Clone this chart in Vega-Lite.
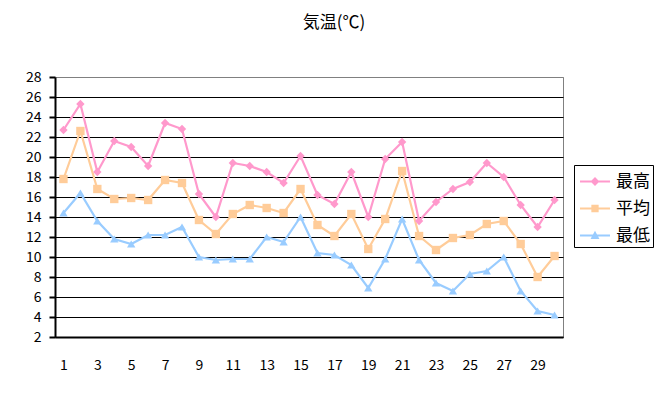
{
  "$schema": "https://vega.github.io/schema/vega-lite/v6.json",
  "autosize": {"type": "none"},
  "width": 508,
  "height": 260,
  "padding": {"left": 55, "top": 77, "right": 107, "bottom": 59},
  "background": "white",
  "title": {"text": "気温(℃)", "font": "Noto Sans CJK JP", "fontSize": 17, "fontWeight": "normal", "color": "black", "anchor": "middle", "frame": "group", "offset": 38, "dx": 25},
  "config": {
    "view": {"stroke": "#808080", "strokeWidth": 1},
    "font": "Noto Sans CJK JP"
  },
  "data": {"values": [
    {"day":1,"series":"最高","temp":22.7},{"day":2,"series":"最高","temp":25.3},{"day":3,"series":"最高","temp":18.5},{"day":4,"series":"最高","temp":21.6},{"day":5,"series":"最高","temp":21.0},{"day":6,"series":"最高","temp":19.1},{"day":7,"series":"最高","temp":23.4},{"day":8,"series":"最高","temp":22.8},{"day":9,"series":"最高","temp":16.3},{"day":10,"series":"最高","temp":14.0},
    {"day":11,"series":"最高","temp":19.4},{"day":12,"series":"最高","temp":19.1},{"day":13,"series":"最高","temp":18.5},{"day":14,"series":"最高","temp":17.4},{"day":15,"series":"最高","temp":20.1},{"day":16,"series":"最高","temp":16.2},{"day":17,"series":"最高","temp":15.3},{"day":18,"series":"最高","temp":18.5},{"day":19,"series":"最高","temp":14.0},{"day":20,"series":"最高","temp":19.8},
    {"day":21,"series":"最高","temp":21.5},{"day":22,"series":"最高","temp":13.6},{"day":23,"series":"最高","temp":15.5},{"day":24,"series":"最高","temp":16.8},{"day":25,"series":"最高","temp":17.5},{"day":26,"series":"最高","temp":19.4},{"day":27,"series":"最高","temp":18.0},{"day":28,"series":"最高","temp":15.2},{"day":29,"series":"最高","temp":13.0},{"day":30,"series":"最高","temp":15.7},
    {"day":1,"series":"平均","temp":17.8},{"day":2,"series":"平均","temp":22.6},{"day":3,"series":"平均","temp":16.8},{"day":4,"series":"平均","temp":15.8},{"day":5,"series":"平均","temp":15.9},{"day":6,"series":"平均","temp":15.7},{"day":7,"series":"平均","temp":17.7},{"day":8,"series":"平均","temp":17.4},{"day":9,"series":"平均","temp":13.7},{"day":10,"series":"平均","temp":12.3},
    {"day":11,"series":"平均","temp":14.3},{"day":12,"series":"平均","temp":15.2},{"day":13,"series":"平均","temp":14.9},{"day":14,"series":"平均","temp":14.4},{"day":15,"series":"平均","temp":16.8},{"day":16,"series":"平均","temp":13.2},{"day":17,"series":"平均","temp":12.1},{"day":18,"series":"平均","temp":14.3},{"day":19,"series":"平均","temp":10.8},{"day":20,"series":"平均","temp":13.8},
    {"day":21,"series":"平均","temp":18.6},{"day":22,"series":"平均","temp":12.1},{"day":23,"series":"平均","temp":10.7},{"day":24,"series":"平均","temp":11.9},{"day":25,"series":"平均","temp":12.2},{"day":26,"series":"平均","temp":13.3},{"day":27,"series":"平均","temp":13.6},{"day":28,"series":"平均","temp":11.3},{"day":29,"series":"平均","temp":8.0},{"day":30,"series":"平均","temp":10.1},
    {"day":1,"series":"最低","temp":14.4},{"day":2,"series":"最低","temp":16.4},{"day":3,"series":"最低","temp":13.6},{"day":4,"series":"最低","temp":11.8},{"day":5,"series":"最低","temp":11.3},{"day":6,"series":"最低","temp":12.2},{"day":7,"series":"最低","temp":12.2},{"day":8,"series":"最低","temp":13.0},{"day":9,"series":"最低","temp":10.0},{"day":10,"series":"最低","temp":9.7},
    {"day":11,"series":"最低","temp":9.8},{"day":12,"series":"最低","temp":9.8},{"day":13,"series":"最低","temp":12.0},{"day":14,"series":"最低","temp":11.5},{"day":15,"series":"最低","temp":14.0},{"day":16,"series":"最低","temp":10.4},{"day":17,"series":"最低","temp":10.2},{"day":18,"series":"最低","temp":9.2},{"day":19,"series":"最低","temp":6.9},{"day":20,"series":"最低","temp":9.8},
    {"day":21,"series":"最低","temp":13.8},{"day":22,"series":"最低","temp":9.7},{"day":23,"series":"最低","temp":7.4},{"day":24,"series":"最低","temp":6.6},{"day":25,"series":"最低","temp":8.3},{"day":26,"series":"最低","temp":8.6},{"day":27,"series":"最低","temp":10.0},{"day":28,"series":"最低","temp":6.6},{"day":29,"series":"最低","temp":4.6},{"day":30,"series":"最低","temp":4.2}
  ]},
  "encoding": {
    "x": {"field": "day", "type": "ordinal", "scale": {"type": "point", "padding": 0.5},
      "axis": {"title": null, "labelAngle": 0, "values": [1,3,5,7,9,11,13,15,17,19,21,23,25,27,29], "ticks": false, "labelPadding": 21, "labelFontSize": 14, "labelColor": "black", "labelFont": "Noto Sans CJK JP", "domainColor": "black", "domainWidth": 2, "grid": false}},
    "y": {"field": "temp", "type": "quantitative", "scale": {"domain": [2, 28], "nice": false, "zero": false},
      "axis": {"title": null, "values": [2,4,6,8,10,12,14,16,18,20,22,24,26,28], "tickColor": "black", "tickSize": 6, "tickWidth": 2, "labelPadding": 8, "labelFontSize": 14, "labelColor": "black", "labelFont": "Noto Sans CJK JP", "domainColor": "black", "domainWidth": 2,
        "grid": true, "gridColor": {"condition": {"test": "datum.value === 28", "value": "#808080"}, "value": "black"}, "gridOpacity": 1, "gridWidth": 1}}
  },
  "layer": [
    {"mark": {"type": "line", "strokeWidth": 2.2},
     "encoding": {"color": {"field": "series", "type": "nominal",
       "scale": {"domain": ["最高", "平均", "最低"], "range": ["#FF99CC", "#FFCC99", "#99CCFF"]},
       "legend": {"title": null, "orient": "none", "legendX": 519, "legendY": 88, "strokeColor": "black", "fillColor": "white", "padding": 3, "labelFontSize": 17, "labelColor": "black", "labelFont": "Noto Sans CJK JP", "rowPadding": 5, "symbolSize": 729, "symbolOffset": 4.5, "labelOffset": 7.5,
         "labelExpr": "datum.label + ' '",
         "encode": {"symbols": {"update": {
           "shape": {"signal": "datum.value === '最高' ? 'M-1.11,-0.08H1.11V0.08H-1.11Z M0,-0.33L0.33,0L0,0.33L-0.33,0Z' : datum.value === '平均' ? 'M-1.11,-0.08H1.11V0.08H-1.11Z M-0.27,-0.27H0.27V0.27H-0.27Z' : 'M-1.11,-0.08H1.11V0.08H-1.11Z M0,-0.35L0.33,0.26L-0.33,0.26Z'"},
           "fill": {"signal": "scale('color', datum.value)"},
           "fillOpacity": {"value": 1},
           "strokeWidth": {"value": 0}}}}}}}},
    {"mark": {"type": "point", "filled": true, "opacity": 1, "size": 70},
     "encoding": {
       "shape": {"condition": [{"test": "datum.series === '最高'", "value": "diamond"}, {"test": "datum.series === '平均'", "value": "square"}], "value": "triangle-up"},
       "color": {"field": "series", "type": "nominal", "legend": null}}}
  ]
}
